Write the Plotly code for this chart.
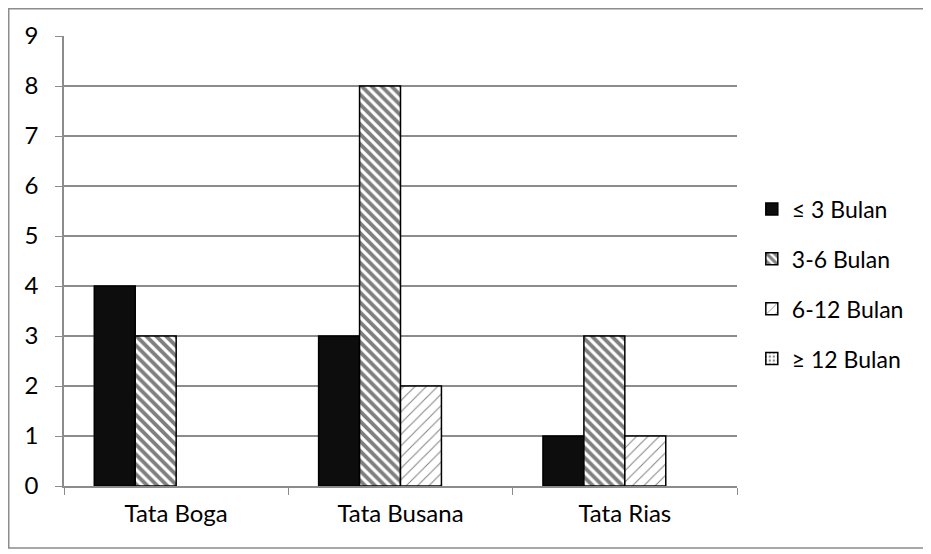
import plotly.graph_objects as go

categories = ["Tata Boga", "Tata Busana", "Tata Rias"]
series_names = ["≤ 3 Bulan", "3-6 Bulan", "6-12 Bulan", "≥ 12 Bulan"]
v_le3 = [4, 3, 1]
v_3_6 = [3, 8, 3]
v_6_12 = [0, 2, 1]
v_ge12 = [0, 0, 0]
yticks = [0, 1, 2, 3, 4, 5, 6, 7, 8, 9]

values = [v_le3, v_3_6, v_6_12, v_ge12]
patterns = [
    dict(shape=""),
    dict(shape="\\", fgcolor="black", bgcolor="white", size=7, solidity=0.55),
    dict(shape="/", fgcolor="black", bgcolor="white", size=8, solidity=0.12),
    dict(shape=".", fgcolor="black", bgcolor="white", size=5, solidity=0.25),
]
colors = ["#0d0d0d", "white", "white", "white"]

fig = go.Figure()
for name, vals, pat, col in zip(series_names, values, patterns, colors):
    # zero-height bars are not drawn in the reference
    shown = [v if v != 0 else None for v in vals]
    fig.add_trace(go.Bar(
        x=categories, y=shown, name=name, legendgroup=name,
        marker=dict(color=col, pattern=pat, line=dict(color="black", width=1.5)),
    ))

fig.update_layout(
    width=923, height=546,
    margin=dict(l=56, r=194, t=28, b=68),
    paper_bgcolor="white", plot_bgcolor="white",
    font=dict(family="Lato, Open Sans, sans-serif", size=24, color="black"),
    barmode="group", bargap=0.27, bargroupgap=0,
    showlegend=True,
    legend=dict(x=1.022, y=0.449, yanchor="middle", xanchor="left",
                font=dict(size=23), tracegroupgap=17, itemwidth=30,
                bgcolor="rgba(0,0,0,0)"),
    xaxis=dict(showline=True, linecolor="#8c8c8c", linewidth=1.5,
               ticks="outside", tickson="boundaries", ticklen=7,
               tickcolor="#8c8c8c", showgrid=False, ticklabelstandoff=5),
    yaxis=dict(range=[0, 9], tickvals=yticks, showline=True, linecolor="#8c8c8c",
               linewidth=1.5, ticks="outside", ticklen=7, tickcolor="#8c8c8c",
               showgrid=True, gridcolor="#8c8c8c", gridwidth=1.5, zeroline=False,
               ticklabelstandoff=12),
    shapes=[dict(type="rect", xref="paper", yref="paper",
                 x0=-0.0821, x1=1.2793, y0=-0.1378, y1=1.0606,
                 line=dict(color="#8c8c8c", width=1.5), fillcolor="rgba(0,0,0,0)")],
)

fig.write_html("out.html")
